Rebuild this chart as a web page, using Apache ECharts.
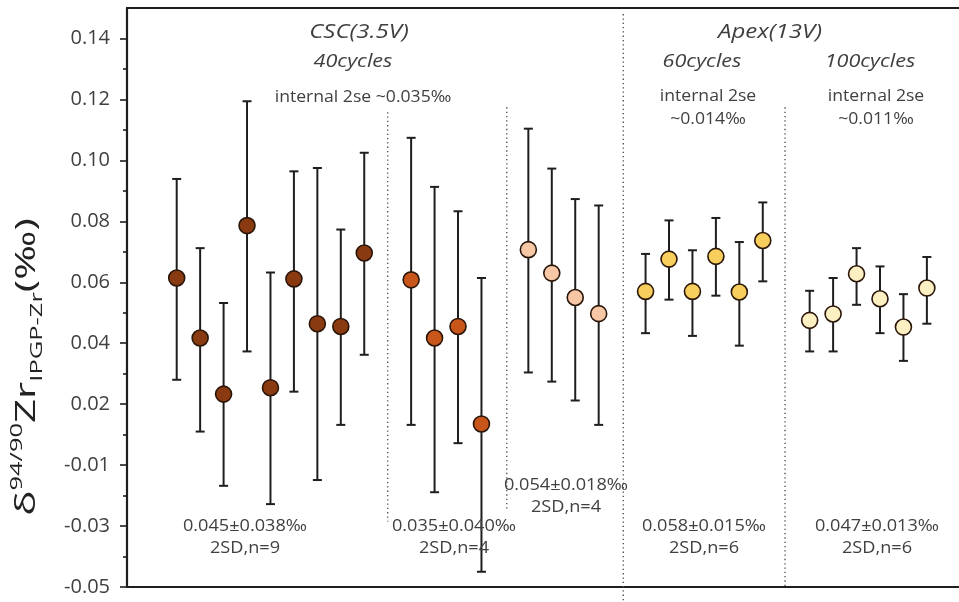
<!DOCTYPE html>
<html>
<head>
<meta charset="utf-8">
<script src="https://cdn.jsdelivr.net/npm/echarts@6/dist/echarts.min.js"></script>
<style>
html,body{margin:0;padding:0;background:#fff;}
#chart{width:959px;height:602px;}
</style>
</head>
<body>
<div id="chart"></div>
<script>
// ---- data ----
const groupStart = [0, 10, 15, 20, 27];
const groupColors = ['#8a3a10', '#c8561b', '#f7c7a6', '#f8cf5c', '#fcefc2'];

const g1Mean = [0.0614, 0.0417, 0.0233, 0.0786, 0.0254, 0.0611, 0.0464, 0.0455, 0.0696];
const g1Low  = [0.0280, 0.0110, -0.0068, 0.0373, -0.0128, 0.0241, -0.0049, 0.0132, 0.0362];
const g1High = [0.0939, 0.0712, 0.0532, 0.1194, 0.0632, 0.0964, 0.0975, 0.0773, 0.1025];

const g2Mean = [0.0608, 0.0417, 0.0455, 0.0135];
const g2Low  = [0.0132, -0.0089, 0.0072, -0.0350];
const g2High = [0.1074, 0.0913, 0.0833, 0.0614];

const g3Mean = [0.0707, 0.0630, 0.0550, 0.0497];
const g3Low  = [0.0304, 0.0274, 0.0212, 0.0132];
const g3High = [0.1104, 0.0973, 0.0873, 0.0852];

const g4Mean = [0.0570, 0.0676, 0.0570, 0.0685, 0.0568, 0.0737];
const g4Low  = [0.0433, 0.0543, 0.0424, 0.0556, 0.0392, 0.0603];
const g4High = [0.0693, 0.0803, 0.0705, 0.0811, 0.0732, 0.0862];

const g5Mean = [0.0475, 0.0496, 0.0628, 0.0546, 0.0453, 0.0581];
const g5Low  = [0.0373, 0.0373, 0.0526, 0.0433, 0.0342, 0.0464];
const g5High = [0.0572, 0.0614, 0.0712, 0.0652, 0.0561, 0.0683];

const sepX      = [9, 14.08, 19.05, 25.95];
const sepTop    = [0.1158, 0.1174, 0.148, 0.1174];
const sepBottom = [-0.0185, -0.0146, -0.045, -0.04];

const tickValues = [-0.04, -0.02, 0, 0.02, 0.04, 0.06, 0.08, 0.10, 0.12, 0.14];
const tickLabels = ['-0.05', '-0.03', '-0.01', '0.02', '0.04', '0.06', '0.08', '0.10', '0.12', '0.14'];

const groups = [
  [g1Mean, g1Low, g1High],
  [g2Mean, g2Low, g2High],
  [g3Mean, g3Low, g3High],
  [g4Mean, g4Low, g4High],
  [g5Mean, g5Low, g5High]
];

// ---- build ----
const FONT = '"Open Sans", "Noto Sans", sans-serif';
const TXT = '#404040';
const chart = echarts.init(document.getElementById('chart'));

const errData = [];
const scatterSeries = [];
groups.forEach((g, gi) => {
  const pts = [];
  g[0].forEach((m, i) => {
    const x = groupStart[gi] + i;
    errData.push([x, g[1][i], g[2][i]]);
    pts.push([x, m]);
  });
  scatterSeries.push({
    type: 'scatter',
    data: pts,
    symbol: 'circle',
    symbolSize: 16,
    z: 5,
    itemStyle: { color: groupColors[gi], borderColor: '#2a1608', borderWidth: 1.6, opacity: 1 },
    silent: true
  });
});

const sepSeries = sepX.map((x, i) => ({
  type: 'line',
  data: [[x, sepTop[i]], [x, sepBottom[i]]],
  symbol: 'none',
  clip: false,
  silent: true,
  z: 1,
  lineStyle: { color: '#555', width: 1.4, type: [1.3, 3] }
}));

const minorValues = [];
for (let i = 0; i < tickValues.length - 1; i++) minorValues.push((tickValues[i] + tickValues[i + 1]) / 2);

function labelFor(v) {
  for (let i = 0; i < tickValues.length; i++) if (Math.abs(tickValues[i] - v) < 1e-6) return tickLabels[i];
  return '';
}

function txt(x, y, text, size, italic, lh, sx) {
  return {
    type: 'text', x: x, y: y, silent: true, z: 10, scaleX: sx || 1.1,
    style: {
      text: text, fill: TXT, align: 'center', verticalAlign: 'middle',
      fontFamily: '"Open Sans", sans-serif', fontSize: size,
      fontStyle: italic ? 'italic' : 'normal', lineHeight: lh || size + 4
    }
  };
}

const option = {
  animation: false,
  backgroundColor: '#fff',
  grid: { left: 127, right: 0, top: 8, bottom: 15 },
  xAxis: [
    {
      type: 'value', min: -2.12, max: 33.37, position: 'bottom',
      axisLine: { show: true, onZero: false, lineStyle: { color: '#1e1e1e', width: 2.2 } },
      axisTick: { show: false }, axisLabel: { show: false }, splitLine: { show: false }
    },
    {
      type: 'value', min: -2.12, max: 33.37, position: 'top',
      axisLine: { show: true, onZero: false, lineStyle: { color: '#1e1e1e', width: 2.2 } },
      axisTick: { show: false }, axisLabel: { show: false }, splitLine: { show: false }
    }
  ],
  yAxis: [
    {
      type: 'value', min: -0.04, max: 0.15, interval: 0.02, position: 'left',
      axisLine: { show: true, onZero: false, lineStyle: { color: '#1e1e1e', width: 2.2 } },
      axisTick: { show: true, inside: false, length: 7, customValues: tickValues, lineStyle: { color: '#1e1e1e', width: 1.6 } },
      axisLabel: {
        customValues: tickValues, margin: 17, color: TXT, fontSize: 20, fontFamily: FONT,
        formatter: labelFor
      },
      splitLine: { show: false }
    },
    {
      type: 'value', min: -0.04, max: 0.15, position: 'left', offset: 0,
      axisLine: { show: false, onZero: false },
      axisTick: { show: true, inside: false, length: 4, customValues: minorValues, lineStyle: { color: '#1e1e1e', width: 1.6 } },
      axisLabel: { show: false },
      splitLine: { show: false }
    }
  ],
  series: [
    ...sepSeries,
    {
      type: 'custom',
      data: errData,
      encode: { x: 0, y: [1, 2] },
      z: 3,
      silent: true,
      renderItem: function (params, api) {
        const x = api.value(0);
        const lo = api.coord([x, api.value(1)]);
        const hi = api.coord([x, api.value(2)]);
        const h = 4.5;
        const st = { stroke: '#1e1e1e', lineWidth: 2 };
        return {
          type: 'group',
          children: [
            { type: 'line', shape: { x1: hi[0], y1: hi[1], x2: lo[0], y2: lo[1] }, style: st },
            { type: 'line', shape: { x1: hi[0] - h, y1: hi[1], x2: hi[0] + h, y2: hi[1] }, style: st },
            { type: 'line', shape: { x1: lo[0] - h, y1: lo[1], x2: lo[0] + h, y2: lo[1] }, style: st }
          ]
        };
      }
    },
    ...scatterSeries
  ],
  graphic: [
    {
      type: 'text', x: 27, y: 367, rotation: Math.PI / 2, scaleX: 1.5, silent: true,
      style: {
        text: '{a|δ}{sup|94/90}{a|Zr}{sub|IPGP-Zr}{a|(‰)}',
        align: 'center', verticalAlign: 'middle', fill: '#222',
        rich: {
          a: { fontSize: 28, fontFamily: FONT, fill: '#222', lineHeight: 37 },
          sup: { fontSize: 17, fontFamily: FONT, fill: '#222', verticalAlign: 'top', lineHeight: 19 },
          sub: { fontSize: 17, fontFamily: FONT, fill: '#222', verticalAlign: 'bottom', lineHeight: 19 }
        }
      }
    },
    txt(359, 32, 'CSC(3.5V)', 20, true, null, 1.2),
    txt(353, 62, '40cycles', 18, true, null, 1.2),
    txt(363, 97, 'internal 2se ~0.035‰', 16, false, null, 1.1),
    txt(770, 32, 'Apex(13V)', 20, true, null, 1.2),
    txt(702, 62, '60cycles', 18, true, null, 1.2),
    txt(870, 62, '100cycles', 18, true, null, 1.2),
    txt(708, 108, 'internal 2se\n~0.014‰', 16, false, 23, 1.1),
    txt(876, 108, 'internal 2se\n~0.011‰', 16, false, 23, 1.1),
    txt(245, 537, '0.045±0.038‰\n2SD,n=9', 16.5, false, 22, 1.1),
    txt(454, 537, '0.035±0.040‰\n2SD,n=4', 16.5, false, 22, 1.1),
    txt(566, 496, '0.054±0.018‰\n2SD,n=4', 16.5, false, 22, 1.1),
    txt(704, 537, '0.058±0.015‰\n2SD,n=6', 16.5, false, 22, 1.1),
    txt(877, 537, '0.047±0.013‰\n2SD,n=6', 16.5, false, 22, 1.1)
  ]
};
chart.setOption(option);
</script>
</body>
</html>
